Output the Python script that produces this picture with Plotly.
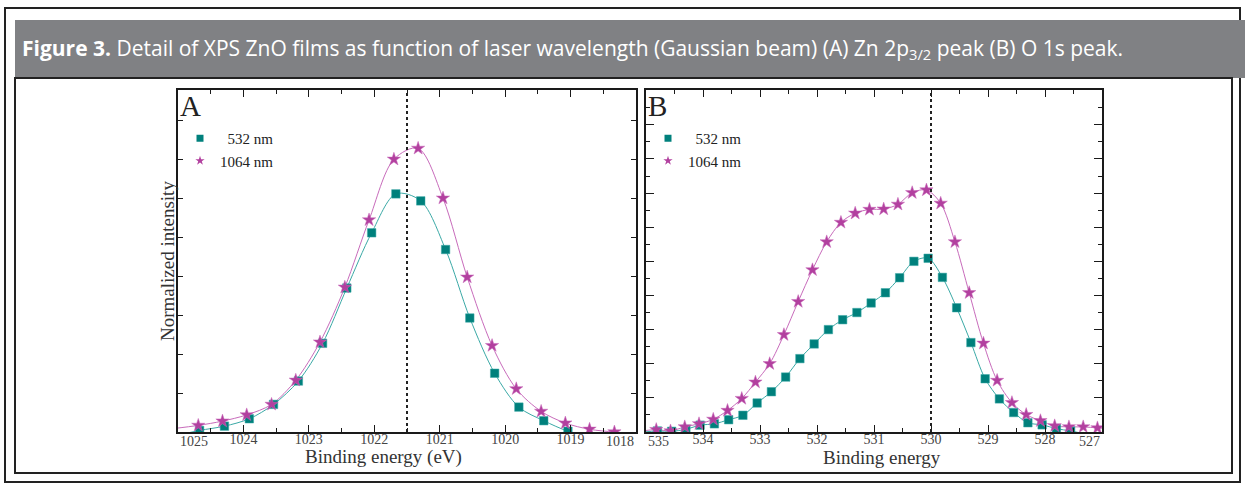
import plotly.graph_objects as go

# ---------------- data ----------------
# Panel A : Zn 2p3/2
A_E_532 = [1025.05, 1024.67, 1024.29, 1023.91, 1023.54, 1023.16, 1022.79, 1022.42, 1022.04,
           1021.67, 1021.29, 1020.91, 1020.54, 1020.16, 1019.79, 1019.41, 1019.04, 1018.66,
           1018.29, 1017.92]
A_I_532 = [-0.10, 0.04, 0.15, 0.34, 0.71, 1.31, 2.28, 3.70, 5.12,
           6.12, 5.94, 4.69, 2.93, 1.51, 0.64, 0.29, 0.02, -0.15,
           -0.20, -0.20]
A_E_1064 = [1025.06, 1024.69, 1024.32, 1023.95, 1023.57, 1023.20, 1022.83, 1022.45, 1022.08,
            1021.70, 1021.33, 1020.95, 1020.58, 1020.20, 1019.83, 1019.45, 1019.08, 1018.71,
            1018.33, 1017.96]
A_I_1064 = [0.09, 0.17, 0.28, 0.44, 0.71, 1.33, 2.31, 3.72, 5.45,
            7.01, 7.29, 6.01, 3.98, 2.22, 1.11, 0.53, 0.23, 0.07,
            0.00, -0.05]

# Panel B : O 1s
B_E_532 = [535.05, 534.80, 534.55, 534.30, 534.05, 533.80, 533.55, 533.30, 533.05, 532.80,
           532.55, 532.30, 532.05, 531.80, 531.55, 531.30, 531.05, 530.80, 530.55,
           530.30, 530.05, 529.80, 529.55, 529.30, 529.05, 528.80, 528.55, 528.30,
           528.05, 527.80, 527.55, 527.30, 527.05]
B_I_532 = [0.00, 0.03, 0.02, 0.08, 0.20, 0.24, 0.36, 0.49, 0.85, 1.18,
           1.61, 2.15, 2.58, 3.00, 3.29, 3.50, 3.78, 4.08, 4.52,
           5.00, 5.09, 4.53, 3.64, 2.62, 1.56, 0.97, 0.57, 0.27,
           0.21, 0.10, 0.03, -0.05, -0.10]
B_E_1064 = [535.07, 534.82, 534.57, 534.32, 534.07, 533.82, 533.57, 533.32, 533.08, 532.83,
            532.58, 532.33, 532.08, 531.83, 531.58, 531.33, 531.08, 530.83, 530.58,
            530.33, 530.08, 529.83, 529.58, 529.33, 529.08, 528.84, 528.58, 528.33,
            528.08, 527.83, 527.58, 527.33, 527.08, 526.83]
B_I_1064 = [0.03, 0.07, 0.03, 0.15, 0.24, 0.37, 0.63, 0.98, 1.46, 2.00,
            2.85, 3.82, 4.75, 5.57, 6.14, 6.41, 6.52, 6.53, 6.67,
            7.01, 7.09, 6.70, 5.57, 4.08, 2.60, 1.51, 0.86, 0.51,
            0.33, 0.18, 0.15, 0.15, 0.12, 0.10]

A_range = [1025, 1018]
B_range = [535, 527]
A_xticks = [1024, 1023, 1022, 1021, 1020, 1019]
A_xminor = [1024.5, 1023.5, 1022.5, 1021.5, 1020.5, 1019.5, 1018.5]
B_xticks = [534, 533, 532, 531, 530, 529, 528]
B_xminor = [534.5, 533.5, 532.5, 531.5, 530.5, 529.5, 528.5, 527.5]
A_yrange = [0, 8.79]
A_yticks = [1, 2, 3, 4, 5, 6, 7, 8]
B_yrange = [0, 10.02]
B_yticks = [1, 2, 3, 4, 5, 6, 7, 8, 9, 10]
B_yminor = [0.5, 1.5, 2.5, 3.5, 4.5, 5.5, 6.5, 7.5, 8.5, 9.5]
peak_A = 1021.5
peak_B = 530.0

series_names = ["\u00a0\u00a0532 nm", "1064 nm"]

# ---------------- style ----------------
W, H = 1245, 486
TEAL, TEAL_LINE = "#00807c", "#3aa9a6"
MAG, MAG_LINE = "#b2409f", "#c86bbb"
SERIF = "Liberation Serif"
AXC = "#1a1a1a"


def px(x):
    return x / W


def py(y):
    return 1 - y / H


def inside(E, I, rng):
    lo, hi = min(rng), max(rng)
    pts = [(e, i) for e, i in zip(E, I) if lo <= e <= hi and i >= 0]
    return [p[0] for p in pts], [p[1] for p in pts]


fig = go.Figure()

panels = [
    ("x", "y", "legend", A_E_532, A_I_532, A_E_1064, A_I_1064, A_range),
    ("x2", "y2", "legend2", B_E_532, B_I_532, B_E_1064, B_I_1064, B_range),
]
for xa, ya, lg, e1, i1, e2, i2, rng in panels:
    fig.add_trace(go.Scatter(x=e1, y=i1, mode="lines", xaxis=xa, yaxis=ya,
                             line=dict(color=TEAL_LINE, width=1, shape="spline", smoothing=0.9),
                             showlegend=False, hoverinfo="skip"))
    fig.add_trace(go.Scatter(x=e2, y=i2, mode="lines", xaxis=xa, yaxis=ya,
                             line=dict(color=MAG_LINE, width=1, shape="spline", smoothing=0.9),
                             showlegend=False, hoverinfo="skip"))
    mx, my = inside(e1, i1, rng)
    fig.add_trace(go.Scatter(x=mx, y=my, mode="markers", xaxis=xa, yaxis=ya,
                             showlegend=False,
                             marker=dict(symbol="square", size=8.5, color=TEAL,
                                         line=dict(color="#3aa9a6", width=0.5))))
    mx, my = inside(e2, i2, rng)
    fig.add_trace(go.Scatter(x=mx, y=my, mode="markers", xaxis=xa, yaxis=ya,
                             showlegend=False,
                             marker=dict(symbol="star", size=10, color=MAG,
                                         line=dict(color="#c86bbb", width=0.5))))
    # legend entries (smaller symbols, as in the original key)
    fig.add_trace(go.Scatter(x=[None], y=[None], mode="markers", xaxis=xa, yaxis=ya,
                             name=series_names[0], legend=lg,
                             marker=dict(symbol="square", size=7, color=TEAL)))
    fig.add_trace(go.Scatter(x=[None], y=[None], mode="markers", xaxis=xa, yaxis=ya,
                             name=series_names[1], legend=lg,
                             marker=dict(symbol="star", size=7, color=MAG)))

tickfont = dict(family=SERIF, size=14, color="#444")


def xaxis(domain, rng, ticks, minor):
    return dict(domain=domain, range=rng, autorange=False, showline=True, linecolor=AXC,
                linewidth=1.5, mirror="allticks", ticks="inside", ticklen=7, tickwidth=1,
                tickcolor=AXC, tickvals=ticks, ticktext=[str(t) for t in ticks],
                tickfont=tickfont, showgrid=False, zeroline=False, ticklabelstandoff=-7,
                minor=dict(tickvals=minor, ticks="inside", ticklen=4, tickwidth=1,
                           tickcolor=AXC, showgrid=False))


def yaxis(rng, ticks, minor, anchor, tlen):
    d = dict(domain=[py(432), py(90)], range=rng, autorange=False, showline=True,
             linecolor=AXC, linewidth=1.5, mirror="allticks", ticks="inside", ticklen=tlen,
             tickwidth=1, tickcolor=AXC, tickvals=ticks, showticklabels=False,
             showgrid=False, zeroline=False, anchor=anchor)
    if minor:
        d["minor"] = dict(tickvals=minor, ticks="inside", ticklen=4, tickwidth=1,
                          tickcolor=AXC, showgrid=False)
    return d


legend_common = dict(bgcolor="rgba(0,0,0,0)", font=dict(family=SERIF, size=15, color="#222"),
                     tracegroupgap=0, itemsizing="trace", xanchor="left", yanchor="top")

fig.update_layout(
    width=W, height=H, margin=dict(l=0, r=0, t=0, b=0),
    paper_bgcolor="white", plot_bgcolor="white",
    xaxis=xaxis([px(178), px(636)], A_range, A_xticks, A_xminor) | dict(anchor="y"),
    yaxis=yaxis(A_yrange, A_yticks, None, "x", 5),
    xaxis2=xaxis([px(646), px(1102)], B_range, B_xticks, B_xminor) | dict(anchor="y2"),
    yaxis2=yaxis(B_yrange, B_yticks, B_yminor, "x2", 8),
    legend=legend_common | dict(x=px(180), y=py(122)),
    legend2=legend_common | dict(x=px(648), y=py(122)),
)

# dotted reference lines at peak positions
for xr, val in (("x", peak_A), ("x2", peak_B)):
    fig.add_shape(type="line", xref=xr, yref=f"{'y' if xr == 'x' else 'y2'} domain",
                  x0=val, x1=val, y0=0, y1=1,
                  line=dict(color="#222", width=2, dash="dot"))

# frame / title bar
fig.add_shape(type="rect", xref="paper", yref="paper", x0=px(5), x1=px(1240), y0=py(482), y1=py(8),
              line=dict(color="#222", width=2), fillcolor="rgba(0,0,0,0)", layer="below")
fig.add_shape(type="rect", xref="paper", yref="paper", x0=px(15), x1=px(1245), y0=py(78), y1=py(20),
              line=dict(width=0), fillcolor="#808184", layer="below")
fig.add_shape(type="rect", xref="paper", yref="paper", x0=px(15), x1=px(1232), y0=py(473), y1=py(78),
              line=dict(color="#222", width=2), fillcolor="rgba(0,0,0,0)", layer="below")

ann = []
ann.append(dict(xref="paper", yref="paper", x=px(20), y=py(49), xanchor="left", yanchor="middle",
                text="<b>Figure 3.</b> Detail of XPS ZnO films as function of laser wavelength "
                     "(Gaussian beam) (A) Zn 2p<sub>3/2</sub> peak (B) O 1s peak.",
                showarrow=False, font=dict(family="Open Sans", size=21, color="white")))
# panel letters
for xr, yr, letter in (("x domain", "y domain", "A"), ("x2 domain", "y2 domain", "B")):
    ann.append(dict(xref=xr, yref=yr, x=0, y=1, xanchor="left", yanchor="top", text=letter,
                    showarrow=False, xshift=0, yshift=2,
                    font=dict(family=SERIF, size=29, color="#222")))
# edge tick labels
for xr, val, anc in (("x", A_range[0], "left"), ("x", A_range[1], "right"),
                     ("x2", B_range[0], "left"), ("x2", B_range[1], "right")):
    ann.append(dict(xref=xr, yref="paper", x=val, y=py(432), xanchor=anc, yanchor="top",
                    text=str(val), showarrow=False, yshift=0, font=tickfont))
# axis titles
ann.append(dict(xref="paper", yref="paper", x=px(383), y=py(457), xanchor="center", yanchor="middle",
                text="Binding energy (eV)", showarrow=False,
                font=dict(family=SERIF, size=19, color="#333")))
ann.append(dict(xref="paper", yref="paper", x=px(882), y=py(457), xanchor="center", yanchor="middle",
                text="Binding energy", showarrow=False,
                font=dict(family=SERIF, size=19, color="#333")))
ann.append(dict(xref="paper", yref="paper", x=px(167), y=py(261), xanchor="center", yanchor="middle",
                text="Normalized intensity", textangle=-90, showarrow=False,
                font=dict(family=SERIF, size=19, color="#333")))
fig.update_layout(annotations=ann)

fig.write_html("out.html")
